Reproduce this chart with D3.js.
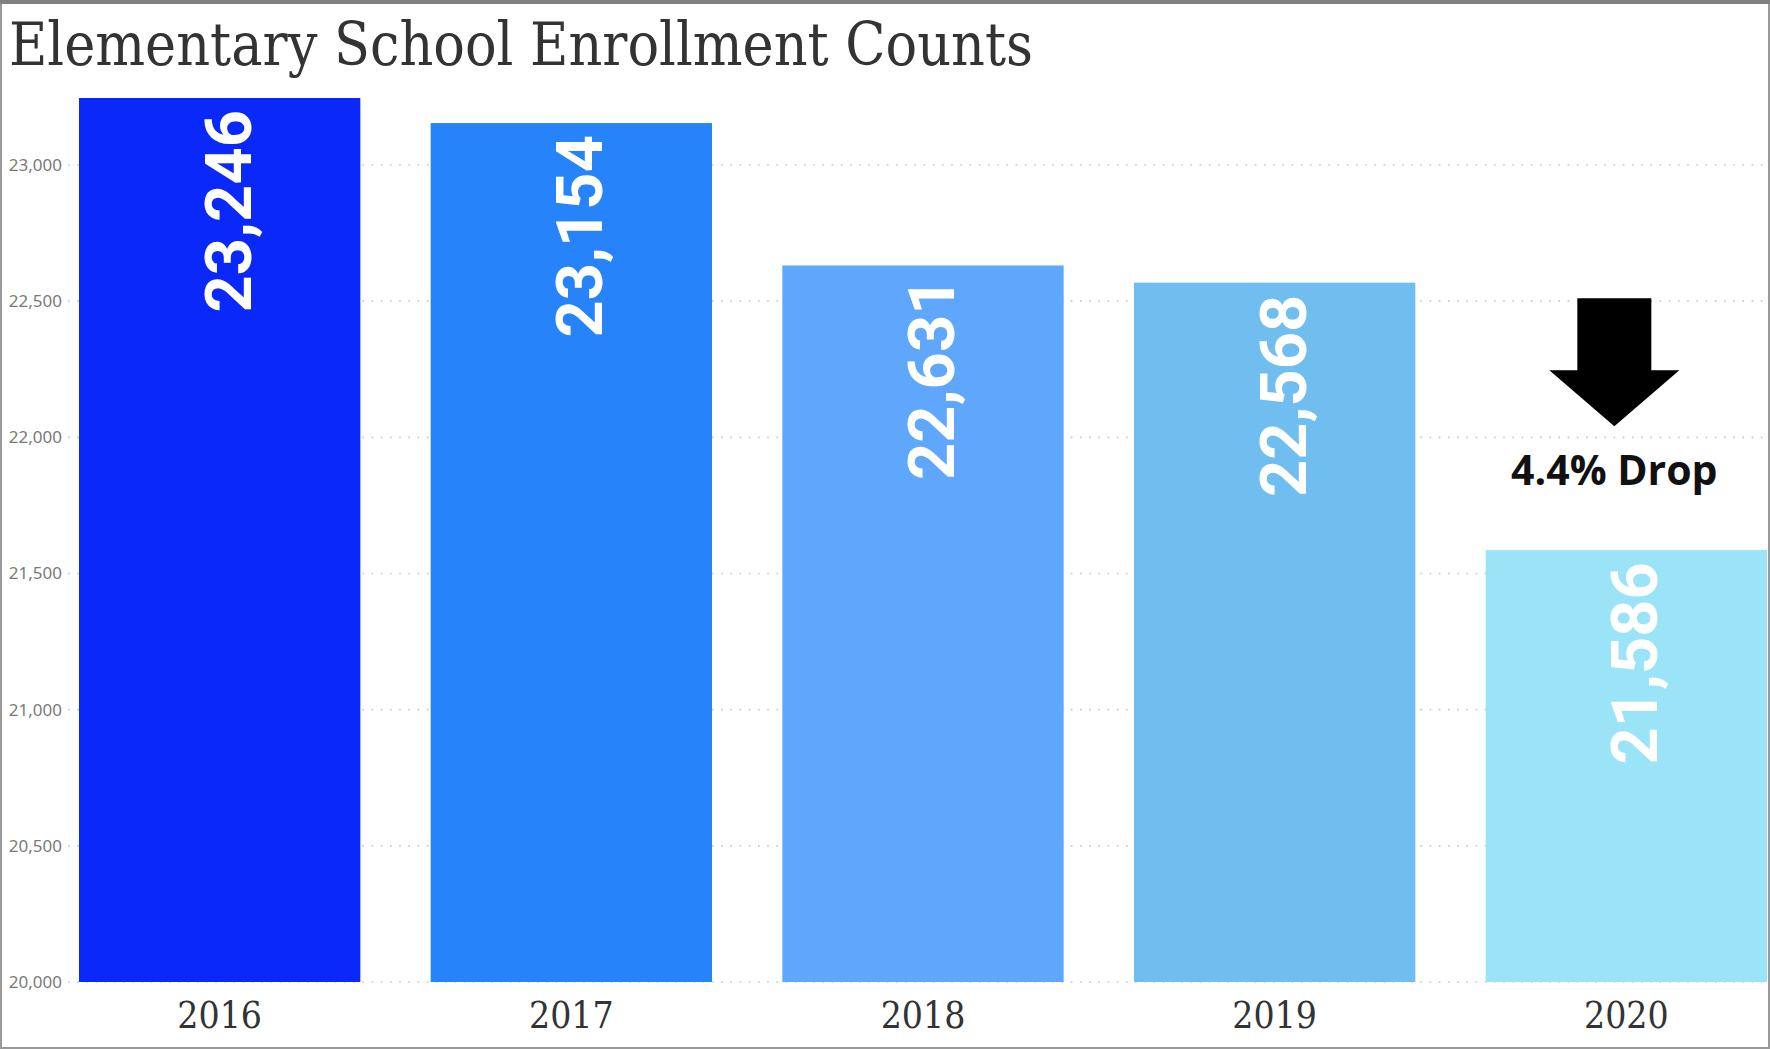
<!DOCTYPE html>
<html>
<head>
<meta charset="utf-8">
<script src="https://cdn.jsdelivr.net/npm/d3@7"></script>
<style>
    body { margin: 0; background: #fff; }
    svg { display: block; }
</style>
</head>
<body>
<div class="chart"></div>
<script>
var svgWidth = 1770
var svgHeight = 1049

// chart data
var years = ["2016", "2017", "2018", "2019", "2020"];
var enrollment = [23246, 23154, 22631, 22568, 21586];
var barColors = ["#0b28fa", "#2683fa", "#5ea7fd", "#70bdef", "#9be4f8"];
var yTicks = [20000, 20500, 21000, 21500, 22000, 22500, 23000];
var title = "Elementary School Enrollment Counts";

var svg = d3.select(".chart")
    .append("svg")
    .attr("width", svgWidth)
    .attr("height", svgHeight);

var xBandScale = d3.scaleBand()
    .domain(years)
    .range([79, 1767])
    .paddingInner(0.2)
    .paddingOuter(0);

var yLinearScale = d3.scaleLinear()
    .domain([20000, 23000])
    .range([982, 165]);

var fmt = d3.format(",");

// title
svg.append("text")
    .attr("x", 9)
    .attr("y", 65)
    .attr("textLength", 1024)
    .attr("lengthAdjust", "spacingAndGlyphs")
    .style("font-family", "'DejaVu Serif Condensed', 'DejaVu Serif', serif")
    .style("font-stretch", "condensed")
    .style("font-size", "60px")
    .attr("fill", "#333")
    .text(title);

// dotted gridlines
svg.append("g")
    .selectAll("line")
    .data(yTicks)
    .enter()
    .append("line")
    .attr("x1", 68)
    .attr("x2", 1766)
    .attr("y1", d => yLinearScale(d))
    .attr("y2", d => yLinearScale(d))
    .attr("stroke", "#c8c8c8")
    .attr("stroke-width", 1.6)
    .attr("stroke-dasharray", "1.6,7.6");

// y axis labels, no domain line
var leftAxis = d3.axisLeft(yLinearScale)
    .tickValues(yTicks)
    .tickFormat(fmt)
    .tickSize(0)
    .tickPadding(0);

var yAxis = svg.append("g")
    .attr("transform", "translate(62, 0)")
    .call(leftAxis);

yAxis.select(".domain").remove();
yAxis.selectAll("text")
    .style("font-family", "'Noto Sans', 'Open Sans', sans-serif")
    .style("font-size", "17px")
    .attr("fill", "#7a7a7a");

// bars
svg.selectAll("rect.bar")
    .data(years)
    .enter()
    .append("rect")
    .attr("class", "bar")
    .attr("x", d => xBandScale(d))
    .attr("y", (d, i) => yLinearScale(enrollment[i]))
    .attr("width", xBandScale.bandwidth())
    .attr("height", (d, i) => yLinearScale(20000) - yLinearScale(enrollment[i]))
    .attr("fill", (d, i) => barColors[i]);

// rotated value labels inside bars
svg.selectAll("text.value")
    .data(years)
    .enter()
    .append("text")
    .attr("class", "value")
    .attr("transform", (d, i) => `translate(${xBandScale(d) + xBandScale.bandwidth() / 2 + 31}, ${yLinearScale(enrollment[i]) + 12}) rotate(-90)`)
    .attr("text-anchor", "end")
    .style("font-family", "Roboto, 'Open Sans', sans-serif")
    .style("font-weight", "bold")
    .style("font-size", "65px")
    .attr("fill", "#fff")
    .text((d, i) => fmt(enrollment[i]));

// x axis labels
var bottomAxis = d3.axisBottom(xBandScale)
    .tickSize(0)
    .tickPadding(0);

var xAxis = svg.append("g")
    .attr("transform", "translate(0, 1002)")
    .call(bottomAxis);

xAxis.select(".domain").remove();
xAxis.selectAll("text")
    .attr("dy", "0.71em")
    .style("font-family", "'DejaVu Serif Condensed', 'DejaVu Serif', serif")
    .style("font-stretch", "condensed")
    .style("font-size", "37px")
    .attr("fill", "#333");

// drop annotation over the last bar
var last = years.length - 1;
var dropPct = (enrollment[last - 1] - enrollment[last]) / enrollment[last - 1] * 100;
var ax = xBandScale(years[last]) + xBandScale.bandwidth() / 2 - 12;
var ay = yLinearScale(22500) - 3;

var arrow = d3.path();
arrow.moveTo(ax - 37, ay);
arrow.lineTo(ax + 37, ay);
arrow.lineTo(ax + 37, ay + 72);
arrow.lineTo(ax + 65, ay + 72);
arrow.lineTo(ax, ay + 128);
arrow.lineTo(ax - 65, ay + 72);
arrow.lineTo(ax - 37, ay + 72);
arrow.closePath();

svg.append("path")
    .attr("d", arrow.toString())
    .attr("fill", "#000");

svg.append("text")
    .attr("x", ax)
    .attr("y", ay + 187)
    .attr("text-anchor", "middle")
    .style("font-family", "'Open Sans', sans-serif")
    .style("font-weight", "bold")
    .style("font-size", "41px")
    .attr("fill", "#111")
    .text(dropPct.toFixed(1) + "% Drop");

// frame
svg.append("rect")
    .attr("x", 1)
    .attr("y", 2)
    .attr("width", svgWidth - 2)
    .attr("height", svgHeight - 3)
    .attr("fill", "none")
    .attr("stroke", "#999")
    .attr("stroke-width", 2);

svg.append("line")
    .attr("x1", 0)
    .attr("x2", svgWidth)
    .attr("y1", 2)
    .attr("y2", 2)
    .attr("stroke", "#808080")
    .attr("stroke-width", 4);
</script>
</body>
</html>
